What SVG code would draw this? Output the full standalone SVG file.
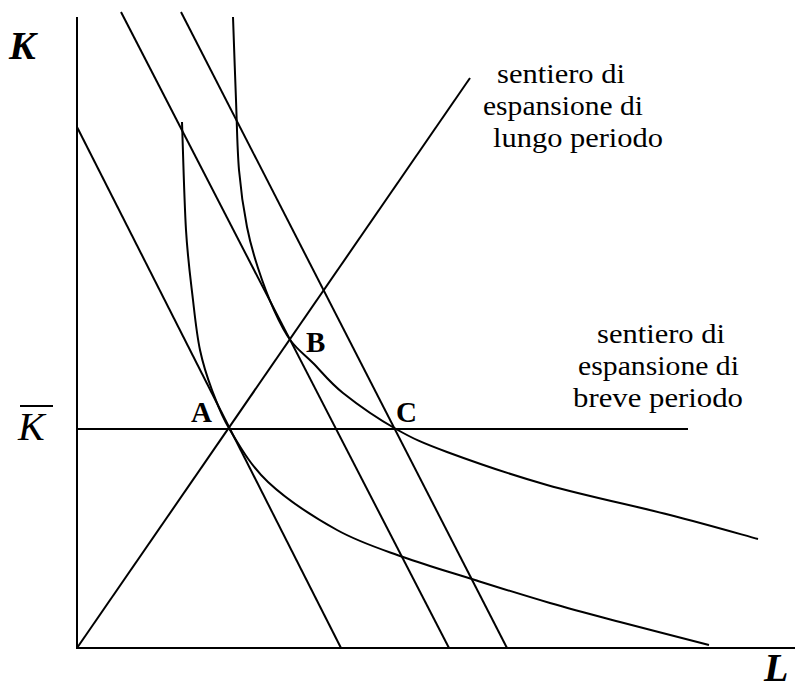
<svg xmlns="http://www.w3.org/2000/svg" width="795" height="690" viewBox="0 0 795 690">
<style>
.ln{stroke:#000;stroke-width:2;fill:none;stroke-linecap:butt;stroke-linejoin:round}
.ax{font-family:"Liberation Serif","Times New Roman",serif;font-size:40px;font-weight:bold;font-style:italic;fill:#000}
.pt{font-family:"Liberation Serif","Times New Roman",serif;font-size:29px;font-weight:bold;fill:#000}
.lb{font-family:"Liberation Serif","Times New Roman",serif;font-size:28px;fill:#000}
</style>
<rect width="795" height="690" fill="#fff"/>
<g id="axes">
<line class="ln" x1="77" y1="17" x2="77" y2="649"/>
<line class="ln" x1="76" y1="648" x2="795" y2="648"/>
<text class="ax" x="9" y="59">K</text>
<text class="ax" x="764" y="681">L</text>
<text class="ax" x="18" y="440" style="font-weight:normal">K</text>
<line class="ln" x1="20" y1="406" x2="53" y2="406"/>
</g>
<g id="connectors">
<line id="isocost1" class="ln" x1="77" y1="127" x2="341" y2="648"/>
<line id="isocost2" class="ln" x1="121" y1="12" x2="449" y2="648"/>
<line id="isocost3" class="ln" x1="181" y1="12" x2="507" y2="648"/>
<line id="long-run-path" class="ln" x1="77" y1="648" x2="470" y2="78"/>
<line id="short-run-path" class="ln" x1="77" y1="429" x2="688" y2="429"/>
<path id="isoquant1" class="ln" d="M182,122 C182.7,140 184.2,200.3 186,230 C187.8,259.7 190.7,280 193,300 C195.3,320 196.8,335 200,350 C203.2,365 207,376.7 212,390 C217,403.3 220.7,414.7 230,430 C239.3,445.3 250.2,465.3 268,482 C285.8,498.7 314.5,517.5 337,530 C359.5,542.5 380,548.7 403,557 C426,565.3 450.5,572.3 475,580 C499.5,587.7 525.8,596 550,603 C574.2,610 593.5,615 620,622 C646.5,629 694.2,641.2 709,645"/>
<path id="isoquant2" class="ln" d="M233,17 C233.5,30.8 235,74.5 236,100 C237,125.5 237.2,148.8 239,170 C240.8,191.2 243.8,210.7 247,227 C250.2,243.3 253.5,254.2 258,268 C262.5,281.8 268.5,297.8 274,310 C279.5,322.2 284.5,332.2 291,341 C297.5,349.8 304.3,354.3 313,363 C321.7,371.7 329.2,382 343,393 C356.8,404 378.7,419.2 396,429 C413.3,438.8 421.8,442.7 447,452 C472.2,461.3 509.8,474.5 547,485 C584.2,495.5 634.8,506 670,515 C705.2,524 743.3,535 758,539"/>
</g>
<g id="A"><text class="pt" x="191" y="422">A</text></g>
<g id="B"><text class="pt" x="306" y="352">B</text></g>
<g id="C"><text class="pt" x="396" y="422">C</text></g>
<g id="label-long">
<text class="lb" x="497" y="83" textLength="128" lengthAdjust="spacingAndGlyphs">sentiero di</text>
<text class="lb" x="483" y="115" textLength="160" lengthAdjust="spacingAndGlyphs">espansione di</text>
<text class="lb" x="493" y="147" textLength="170" lengthAdjust="spacingAndGlyphs">lungo periodo</text>
</g>
<g id="label-short">
<text class="lb" x="597" y="343" textLength="128" lengthAdjust="spacingAndGlyphs">sentiero di</text>
<text class="lb" x="578" y="375" textLength="161" lengthAdjust="spacingAndGlyphs">espansione di</text>
<text class="lb" x="573" y="407" textLength="170" lengthAdjust="spacingAndGlyphs">breve periodo</text>
</g>
</svg>
